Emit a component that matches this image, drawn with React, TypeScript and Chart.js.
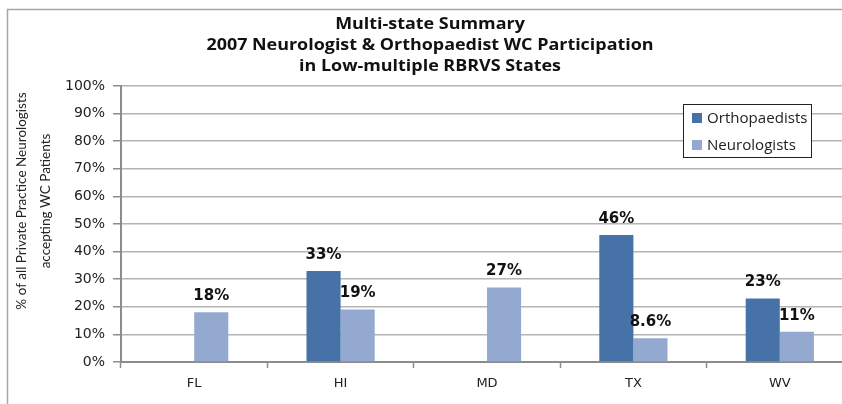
import React, { useEffect, useRef } from "react";
import { Chart, registerables } from "chart.js";

Chart.register(...registerables);

const categories = ["FL", "HI", "MD", "TX", "WV"];
const orthopaedists: (number | null)[] = [null, 33, null, 46, 23];
const neurologists: (number | null)[] = [18, 19, 27, 8.6, 11];
const seriesNames = ["Orthopaedists", "Neurologists"];
const seriesColors = ["#4672A8", "#94A9D0"];
const titleLines = [
  "Multi-state Summary",
  "2007 Neurologist & Orthopaedist WC Participation",
  "in Low-multiple RBRVS States",
];
const yTitleLines = ["% of all Private Practice Neurologists", "accepting WC Patients"];
const yTicks = [0, 10, 20, 30, 40, 50, 60, 70, 80, 90, 100];

const W = 860;
const H = 404;

const decorPlugin = {
  id: "decor",
  beforeDraw(chart: any) {
    const ctx = chart.ctx;
    ctx.save();
    ctx.fillStyle = "#ffffff";
    ctx.fillRect(0, 0, chart.width, chart.height);
    ctx.strokeStyle = "#A6A6A6";
    ctx.lineWidth = 1.5;
    ctx.beginPath();
    ctx.moveTo(7.5, chart.height);
    ctx.lineTo(7.5, 9.5);
    ctx.lineTo(chart.width, 9.5);
    ctx.stroke();
    ctx.restore();
  },
  afterDraw(chart: any) {
    const ctx = chart.ctx;
    ctx.save();
    // title (slightly widened like the source)
    ctx.fillStyle = "#111";
    ctx.font = "bold 16px 'Open Sans'";
    ctx.textAlign = "center";
    ctx.textBaseline = "middle";
    titleLines.forEach((t, i) => {
      ctx.save();
      ctx.translate(chart.width / 2, 24 + i * 21);
      ctx.scale(1.12, 1);
      ctx.fillText(t, 0, 0);
      ctx.restore();
    });

    // y axis title
    ctx.font = "13.5px Lato";
    ctx.fillStyle = "#222";
    const cy = 201;
    yTitleLines.forEach((t, i) => {
      ctx.save();
      ctx.translate(22 + i * 24, cy);
      ctx.rotate(-Math.PI / 2);
      ctx.fillText(t, 0, 0);
      ctx.restore();
    });

    // data labels
    ctx.font = "bold 15px 'DejaVu Sans'";
    ctx.fillStyle = "#111";
    ctx.textAlign = "center";
    ctx.textBaseline = "middle";
    chart.data.datasets.forEach((ds: any, di: number) => {
      const meta = chart.getDatasetMeta(di);
      meta.data.forEach((el: any, i: number) => {
        const v = ds.data[i];
        if (v === null || v === undefined) return;
        ctx.fillText(v + "%", el.x, el.y - 16);
      });
    });

    // legend
    const lx = 683.5, ly = 104.5, lw = 128, lh = 53;
    ctx.fillStyle = "#ffffff";
    ctx.fillRect(lx, ly, lw, lh);
    ctx.strokeStyle = "#222";
    ctx.lineWidth = 1;
    ctx.strokeRect(lx, ly, lw, lh);
    ctx.font = "14.5px 'Open Sans'";
    ctx.textAlign = "left";
    chart.data.datasets.forEach((ds: any, di: number) => {
      const y = 118 + di * 27;
      ctx.fillStyle = ds.backgroundColor;
      ctx.fillRect(692, y - 5, 10, 10);
      ctx.fillStyle = "#222";
      ctx.save();
      ctx.translate(707, y + 1);
      ctx.scale(1.04, 1);
      ctx.fillText(ds.label, 0, 0);
      ctx.restore();
    });
    ctx.restore();
  },
};

export default function App() {
  const ref = useRef<HTMLCanvasElement>(null);
  useEffect(() => {
    if (!ref.current) return;
    const chart = new Chart(ref.current, {
      type: "bar",
      data: {
        labels: categories,
        datasets: [
          { label: seriesNames[0], data: orthopaedists, backgroundColor: seriesColors[0] },
          { label: seriesNames[1], data: neurologists, backgroundColor: seriesColors[1] },
        ],
      },
      options: {
        animation: false,
        responsive: false,
        maintainAspectRatio: false,
        layout: { padding: { top: 86, left: 0, right: 7, bottom: 0 } },
        datasets: { bar: { categoryPercentage: 0.466, barPercentage: 1 } },
        plugins: { legend: { display: false }, title: { display: false }, tooltip: { enabled: false } },
        scales: {
          x: {
            grid: { drawOnChartArea: false, offset: true, tickLength: 6, tickColor: "#8C8C8C", tickWidth: 1.5 },
            border: { color: "#8C8C8C", width: 2 },
            ticks: { padding: 8, color: "#222", font: { family: "DejaVu Sans", size: 13 } },
            afterFit: (s: any) => { s.height = 42; },
          },
          y: {
            min: 0,
            max: 100,
            afterBuildTicks: (s: any) => { s.ticks = yTicks.map((v) => ({ value: v })); },
            grid: { color: "#B4B4B4", lineWidth: 1.5, tickLength: 8, tickColor: "#8C8C8C", tickWidth: 1.5 },
            border: { color: "#8C8C8C", width: 2 },
            ticks: {
              padding: 8,
              color: "#222",
              font: { family: "DejaVu Sans", size: 14 },
              callback: (v: any) => v + "%",
            },
            afterFit: (s: any) => { s.width = 121; },
          },
        },
      },
      plugins: [decorPlugin],
    });
    return () => chart.destroy();
  }, []);
  return (
    <div style={{ position: "fixed", left: 0, top: 0, width: 842, height: 404, overflow: "hidden", background: "#fff" }}>
      <canvas ref={ref} width={W} height={H} style={{ width: W, height: H, display: "block" }} />
    </div>
  );
}
